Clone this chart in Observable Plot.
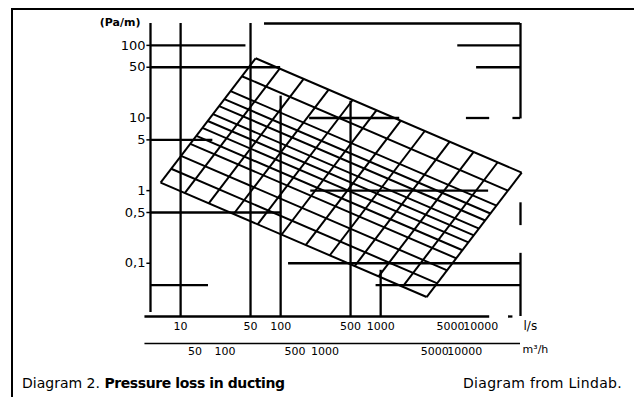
<!DOCTYPE html>
<html><head><meta charset="utf-8">
<script src="https://cdn.jsdelivr.net/npm/d3@7"></script>
<script src="https://cdn.jsdelivr.net/npm/@observablehq/plot@0.6"></script>
<style>
body{margin:0;background:#fff;font-family:"DejaVu Sans",sans-serif;}
#wrap{position:relative;width:634px;height:397px;overflow:hidden;background:#fff;}
#chart{position:absolute;left:0;top:0;}
#frame{position:absolute;left:11px;top:8px;right:-5px;bottom:-5px;border-left:2px solid #000;border-top:2px solid #000;pointer-events:none;}
#cap{position:absolute;left:22px;right:12px;top:375px;font-size:14px;line-height:16px;display:flex;justify-content:space-between;color:#000;}
#cap b{font-weight:700;letter-spacing:-0.4px;}
#cap .src{letter-spacing:0.3px;}
</style></head><body>
<div id="wrap"><div id="chart"></div><div id="frame"></div>
<div id="cap"><span>Diagram 2. <b>Pressure loss in ducting</b></span><span class="src">Diagram from Lindab.</span></div></div>
<script>
// Axis ticks
const yTickValues = [100, 50, 10, 5, 1, 0.5, 0.1];
const yTickLabels = ["100", "50", "10", "5", "1", "0,5", "0,1"];
const lsTickValues = [10, 50, 100, 500, 1000, 5000, 10000];
const lsTickLabels = ["10", "50", "100", "500", "1000", "5000", "10000"];
// m³/h labels as printed (the last two sit right of their true place in the source)
const m3hTickPos = [50, 100, 500, 1000, 12500, 25000];
const m3hTickLabels = ["50", "100", "500", "1000", "5000", "10000"];

// Velocity lines (one family of the mesh): start on left edge, end on right edge (l/s, Pa/m)
const velStartQ = [56.2, 41.0, 31.6, 27.4, 24.3, 21.1, 18.7, 16.5, 14.4, 12.5, 10.1, 8.05, 6.31];
const velStartR = [66.4, 37.6, 23.4, 18.2, 14.6, 11.3, 9.1, 7.3, 5.66, 4.41, 3.01, 2.0, 1.29];
const velEndQ = [25700, 18700, 14400, 12500, 11100, 9640, 8550, 7540, 6580, 5710, 4620, 3680, 2880];
const velEndR = [1.77, 1.0, 0.622, 0.484, 0.388, 0.30, 0.242, 0.194, 0.151, 0.117, 0.080, 0.053, 0.0343];

// Diameter lines (other family): start on lower edge, end on upper edge
const diaStartQ = [6.31, 11.0, 19.1, 33.9, 58.9, 102, 178, 309, 550, 955, 1660, 2880];
const diaStartR = [1.29, 0.927, 0.668, 0.477, 0.343, 0.247, 0.178, 0.128, 0.0916, 0.0662, 0.0477, 0.0343];
const diaEndQ = [56.2, 97.8, 170, 302, 525, 910, 1590, 2760, 4900, 8510, 14800, 25700];
const diaEndR = [66.4, 47.8, 34.5, 24.6, 17.7, 12.8, 9.2, 6.62, 4.73, 3.42, 2.46, 1.77];

// Heavy reference rules (vertical): flow l/s, from Pa/m, to Pa/m
const vRuleQ = [5, 10, 50, 100, 500, 1000, 25000, 25000, 25000];
const vRuleLow = [0.021, 0.0185, 0.0185, 0.0185, 0.0185, 0.0185, 9.7, 0.33, 0.0185];
const vRuleHigh = [200, 200, 200, 20, 17, 0.08, 200, 0.68, 0.137];

// Heavy reference rules (horizontal): Pa/m, from l/s, to l/s
const hRuleR = [200, 100, 100, 50, 50, 10, 10, 10, 5, 1, 0.5, 0.1, 0.05, 0.05, 0.0185, 0.0185];
const hRuleFrom = [69, 5, 5900, 5, 9100, 195, 7200, 21000, 5, 200, 5, 120, 5, 900, 4.4, 19000];
const hRuleTo = [25000, 45, 25000, 100, 25000, 1550, 12300, 25000, 21, 12000, 100, 25000, 19, 25000, 12300, 21000];

const vel = velStartQ.map((q, i) => ({x1: q, y1: velStartR[i], x2: velEndQ[i], y2: velEndR[i]}));
const dia = diaStartQ.map((q, i) => ({x1: q, y1: diaStartR[i], x2: diaEndQ[i], y2: diaEndR[i]}));
const vRules = vRuleQ.map((q, i) => ({q, lo: vRuleLow[i], hi: vRuleHigh[i]}));
const hRules = hRuleR.map((r, i) => ({r, from: hRuleFrom[i], to: hRuleTo[i]}));
const yTicks = yTickValues.map((v, i) => ({v, label: yTickLabels[i]}));
const lsTicks = lsTickValues.map((v, i) => ({v, label: lsTickLabels[i]}));
const m3h = m3hTickPos.map((v, i) => ({v, label: m3hTickLabels[i]}));

const font = "'DejaVu Sans', sans-serif";
const chart = Plot.plot({
  width: 634,
  height: 365,
  marginLeft: 150,
  marginRight: 114,
  marginTop: 23,
  marginBottom: 49,
  clip: false,
  style: {background: "#fff", color: "#000", fontFamily: font, overflow: "visible"},
  x: {type: "log", domain: [5, 25000], axis: null},
  y: {type: "log", domain: [0.0185, 200], axis: null},
  marks: [
    Plot.link(vel, {x1: "x1", y1: "y1", x2: "x2", y2: "y2", stroke: "#000", strokeWidth: 2}),
    Plot.link(dia, {x1: "x1", y1: "y1", x2: "x2", y2: "y2", stroke: "#000", strokeWidth: 2}),
    Plot.ruleX(vRules, {x: "q", y1: "lo", y2: "hi", stroke: "#000", strokeWidth: 2.3}),
    Plot.ruleY(hRules, {y: "r", x1: "from", x2: "to", stroke: "#000", strokeWidth: 2.3}),
    Plot.ruleY([0.0185], {x1: 4.4, x2: 25000, dy: 27, stroke: "#000", strokeWidth: 1.6}),
    // y axis tick marks and labels
    Plot.ruleY(yTicks, {y: "v", x1: 4.6, x2: 5, stroke: "#000", strokeWidth: 1.5}),
    Plot.text(yTicks, {y: "v", text: "label", frameAnchor: "left", dx: -5, textAnchor: "end", fontSize: 13, fill: "#000"}),
    // l/s axis labels
    Plot.text(lsTicks, {x: "v", text: "label", frameAnchor: "bottom", dy: 6, lineAnchor: "top", fontSize: 11, fill: "#000"}),
    // m³/h axis labels
    Plot.text(m3h, {x: d => d.v / 3.6, text: "label", frameAnchor: "bottom", dy: 31, lineAnchor: "top", fontSize: 11, fill: "#000"}),
    Plot.text(["l/s"], {frameAnchor: "bottom-right", dx: 3, dy: 5, textAnchor: "start", lineAnchor: "top", fontSize: 12, fill: "#000"}),
    Plot.text(["m³/h"], {frameAnchor: "bottom-right", dx: 2, dy: 29, textAnchor: "start", lineAnchor: "top", fontSize: 11, fill: "#000"}),
    Plot.text(["(Pa/m)"], {frameAnchor: "top-left", dx: -10, dy: -1, textAnchor: "end", lineAnchor: "middle", fontSize: 11, fontWeight: 700, fill: "#000"})
  ]
});
document.getElementById("chart").appendChild(chart);
</script>
</body></html>
